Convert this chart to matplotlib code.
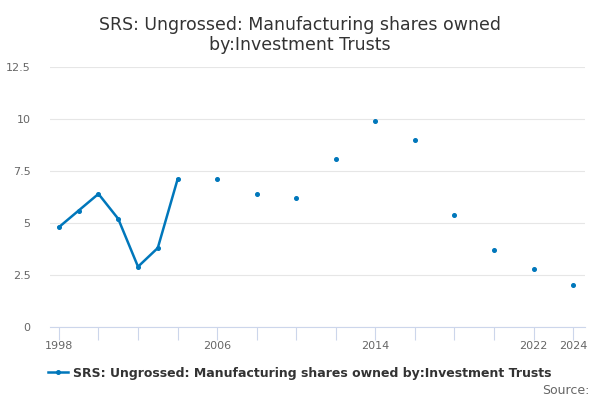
import numpy as np
import matplotlib
matplotlib.use("Agg")
from matplotlib import pyplot as plt

# yearly until 2004, then every second year (odd years missing)
years = np.arange(1998, 2025)
values = {
    1998: 4.8, 1999: 5.6, 2000: 6.4, 2001: 5.2, 2002: 2.9, 2003: 3.8, 2004: 7.1,
    2006: 7.1, 2008: 6.4, 2010: 6.2, 2012: 8.1, 2014: 9.9, 2016: 9.0,
    2018: 5.4, 2020: 3.7, 2022: 2.8, 2024: 2.0,
}
y = np.array([values.get(int(yr), np.nan) for yr in years])

yticks = [0, 2.5, 5, 7.5, 10, 12.5]
ytick_labels = ["0", "2.5", "5", "7.5", "10", "12.5"]
xticks = list(range(1998, 2025, 2))
xlabelled = [1998, 2006, 2014, 2022, 2024]
title = "SRS: Ungrossed: Manufacturing shares owned\nby:Investment Trusts"
series_name = "SRS: Ungrossed: Manufacturing shares owned by:Investment Trusts"

col = "#0077bb"

fig = plt.figure(figsize=(6, 4), dpi=100)
ax = fig.add_axes([50/600, 1 - 327/400, 535/600, 260/400])

ax.plot(years, y, color=col, lw=1.8, marker="o", ms=2.6, label=series_name)

ax.set_xlim(1997.55, 2024.6)
ax.set_ylim(0, 12.5)
ax.set_yticks(yticks)
ax.set_yticklabels(ytick_labels)
ax.set_xticks(xticks)
ax.set_xticklabels([str(t) if t in xlabelled else "" for t in xticks])

ax.grid(axis="y", color="#e6e6e6", lw=0.8)
ax.set_axisbelow(True)
for s in ["top", "right", "left"]:
    ax.spines[s].set_visible(False)
ax.spines["bottom"].set_color("#ccd6eb")
ax.tick_params(axis="y", length=0, labelsize=8, labelcolor="#666666", pad=14)
ax.tick_params(axis="x", length=9, color="#ccd6eb", labelsize=8,
               labelcolor="#666666", pad=1)

fig.text(0.5, 0.96, title, ha="center", va="top", fontsize=12.5,
         color="#333333", linespacing=1.15)

leg = fig.legend(loc="center", bbox_to_anchor=(0.5, 1 - 373/400), frameon=False,
                 fontsize=9, handlelength=1.6, handletextpad=0.4)
for t in leg.get_texts():
    t.set_color("#333333")
    t.set_fontweight("bold")

fig.text(0.983, 1 - 390/400, "Source:", ha="right", va="center", fontsize=9,
         color="#666666")

fig.savefig("out.png", dpi=100)
